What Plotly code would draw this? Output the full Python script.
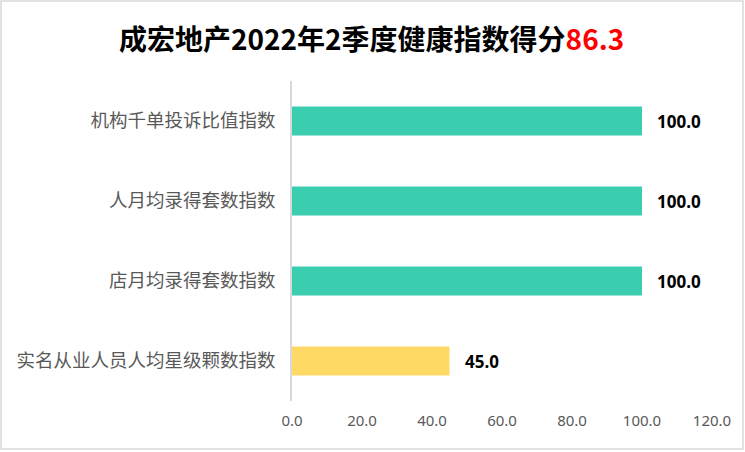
import plotly.graph_objects as go

categories = ["机构千单投诉比值指数", "人月均录得套数指数", "店月均录得套数指数", "实名从业人员人均星级颗数指数"]
values = [100.0, 100.0, 100.0, 45.0]
bar_colors = ["#3ACDB0", "#3ACDB0", "#3ACDB0", "#FFD966"]
title_main = "成宏地产2022年2季度健康指数得分"
title_score = "86.3"
x_ticks = [0, 20, 40, 60, 80, 100, 120]

W, H = 745, 452
L, R, T, B = 292, 33, 81, 51
pw, ph = W - L - R, H - T - B

fig = go.Figure()
fig.add_trace(go.Bar(
    x=values, y=categories, orientation="h",
    marker=dict(color=bar_colors, line=dict(width=0)),
    width=0.36, hoverinfo="x+y",
))

for v, c in zip(values, categories):
    fig.add_annotation(x=v, y=c, xref="x", yref="y", text=f"<b>{v:.1f}</b>",
                       showarrow=False, xanchor="left", xshift=13,
                       font=dict(family="Noto Sans, Liberation Sans, sans-serif", size=17, color="#000000"))

fig.add_annotation(x=(371 - L) / pw, y=(H - B - 38) / ph, xref="paper", yref="paper",
                   text=f"<b>{title_main}<span style='color:#FF0000'>{title_score}</span></b>",
                   showarrow=False, xanchor="center", yanchor="middle",
                   font=dict(family="Noto Sans CJK SC, sans-serif", size=28, color="#000000"))

# outer border
fig.add_shape(type="rect", xref="paper", yref="paper",
              x0=(1 - L) / pw, x1=(743 - L) / pw,
              y0=(H - B - 449) / ph, y1=(H - B - 1) / ph,
              line=dict(color="#D9D9D9", width=1.5), fillcolor="rgba(0,0,0,0)", layer="below")

fig.update_layout(
    width=W, height=H,
    margin=dict(l=L, r=R, t=T, b=B, autoexpand=False),
    paper_bgcolor="white", plot_bgcolor="white",
    showlegend=False,
    xaxis=dict(range=[0, 120], tickvals=x_ticks, tickformat=".1f", showgrid=False,
               zeroline=False, showline=False, ticks="", ticklabelstandoff=9,
               tickfont=dict(family="Noto Sans, Liberation Sans, sans-serif", size=15, color="#595959")),
    yaxis=dict(autorange="reversed", showgrid=False, zeroline=False, showline=True,
               linecolor="#D9D9D9", linewidth=1.5, ticks="", ticklabelstandoff=11,
               tickfont=dict(family="Noto Sans CJK SC, sans-serif", size=18.5, color="#595959")),
)

fig.write_html("out.html", config={"displayModeBar": False},
               post_script="document.body.style.margin='0';document.body.style.overflow='hidden';")
